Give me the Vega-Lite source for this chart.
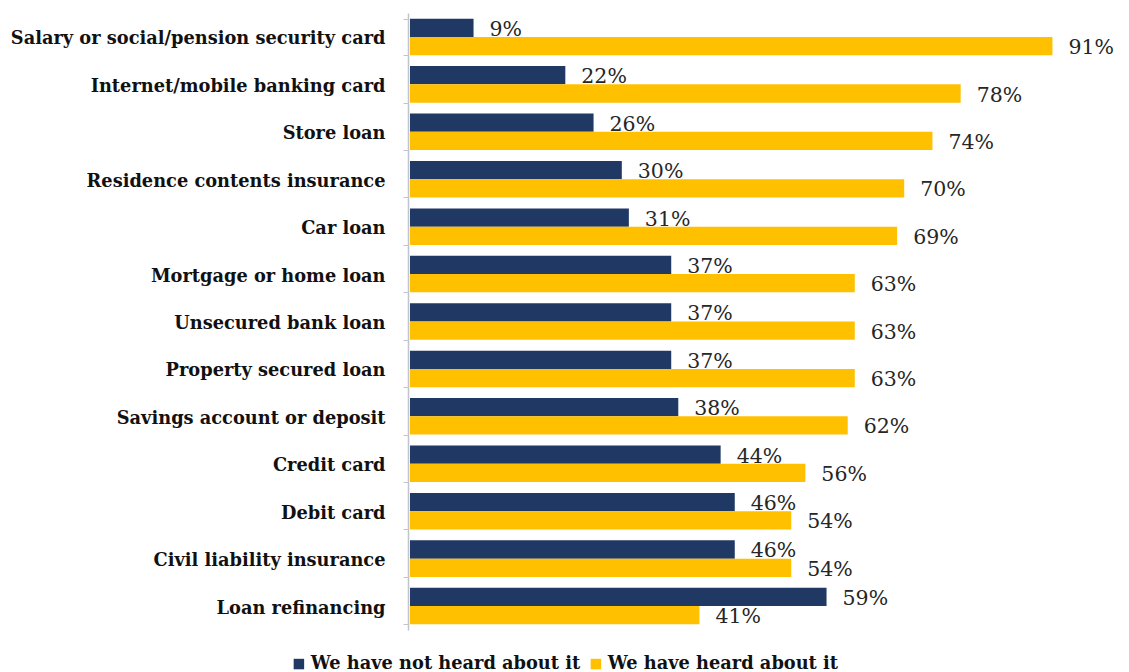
{
  "$schema": "https://vega.github.io/schema/vega-lite/v6.json",
  "autosize": "none",
  "width": 706,
  "height": 617,
  "padding": {"left": 410, "top": 13, "right": 13, "bottom": 42},
  "background": "white",
  "config": {"view": {"stroke": null}, "font": "DejaVu Serif"},
  "data": {"values": [
    {"item": "Salary or social/pension security card", "series": "We have not heard about it", "value": 0.09},
    {"item": "Salary or social/pension security card", "series": "We have heard about it", "value": 0.91},
    {"item": "Internet/mobile banking card", "series": "We have not heard about it", "value": 0.22},
    {"item": "Internet/mobile banking card", "series": "We have heard about it", "value": 0.78},
    {"item": "Store loan", "series": "We have not heard about it", "value": 0.26},
    {"item": "Store loan", "series": "We have heard about it", "value": 0.74},
    {"item": "Residence contents insurance", "series": "We have not heard about it", "value": 0.30},
    {"item": "Residence contents insurance", "series": "We have heard about it", "value": 0.70},
    {"item": "Car loan", "series": "We have not heard about it", "value": 0.31},
    {"item": "Car loan", "series": "We have heard about it", "value": 0.69},
    {"item": "Mortgage or home loan", "series": "We have not heard about it", "value": 0.37},
    {"item": "Mortgage or home loan", "series": "We have heard about it", "value": 0.63},
    {"item": "Unsecured bank loan", "series": "We have not heard about it", "value": 0.37},
    {"item": "Unsecured bank loan", "series": "We have heard about it", "value": 0.63},
    {"item": "Property secured loan", "series": "We have not heard about it", "value": 0.37},
    {"item": "Property secured loan", "series": "We have heard about it", "value": 0.63},
    {"item": "Savings account or deposit", "series": "We have not heard about it", "value": 0.38},
    {"item": "Savings account or deposit", "series": "We have heard about it", "value": 0.62},
    {"item": "Credit card", "series": "We have not heard about it", "value": 0.44},
    {"item": "Credit card", "series": "We have heard about it", "value": 0.56},
    {"item": "Debit card", "series": "We have not heard about it", "value": 0.46},
    {"item": "Debit card", "series": "We have heard about it", "value": 0.54},
    {"item": "Civil liability insurance", "series": "We have not heard about it", "value": 0.46},
    {"item": "Civil liability insurance", "series": "We have heard about it", "value": 0.54},
    {"item": "Loan refinancing", "series": "We have not heard about it", "value": 0.59},
    {"item": "Loan refinancing", "series": "We have heard about it", "value": 0.41}
  ]},
  "encoding": {
    "y": {
      "field": "item", "type": "nominal", "sort": null, "title": null,
      "scale": {"paddingInner": 0.23, "paddingOuter": 0.12},
      "axis": {
        "domainColor": "#c0c4cc", "domainWidth": 1.5, "tickColor": "#c0c4cc", "tickSize": 5,
        "tickBand": "extent", "offset": 2,
        "labelFont": "DejaVu Serif", "labelFontWeight": "bold", "labelFontSize": 17.8,
        "labelColor": "#111111", "labelPadding": 18, "labelLimit": 420, "labelBaseline": "middle", "labelOffset": 2
      }
    },
    "yOffset": {"field": "series", "type": "nominal", "sort": ["We have not heard about it", "We have heard about it"]},
    "x": {"field": "value", "type": "quantitative", "scale": {"domain": [0, 1], "nice": false}, "axis": null}
  },
  "layer": [
    {
      "mark": {"type": "bar"},
      "encoding": {
        "color": {
          "field": "series", "type": "nominal",
          "scale": {"domain": ["We have not heard about it", "We have heard about it"], "range": ["#1f3864", "#ffc000"]},
          "legend": {
            "orient": "none", "direction": "horizontal", "legendX": -120, "legendY": 642,
            "title": null, "symbolType": "square", "symbolSize": 110, "symbolStrokeWidth": 0,
            "labelFont": "DejaVu Serif", "labelFontWeight": "bold", "labelFontSize": 17.8,
            "labelColor": "#111111", "columnPadding": 6, "labelOffset": 3, "labelLimit": 400
          }
        }
      }
    },
    {
      "mark": {"type": "text", "align": "left", "baseline": "middle", "dx": 16, "dy": 2, "font": "DejaVu Serif", "fontSize": 20.5, "color": "#262626"},
      "encoding": {
        "text": {"field": "value", "type": "quantitative", "format": ".0%"}
      }
    }
  ]
}
